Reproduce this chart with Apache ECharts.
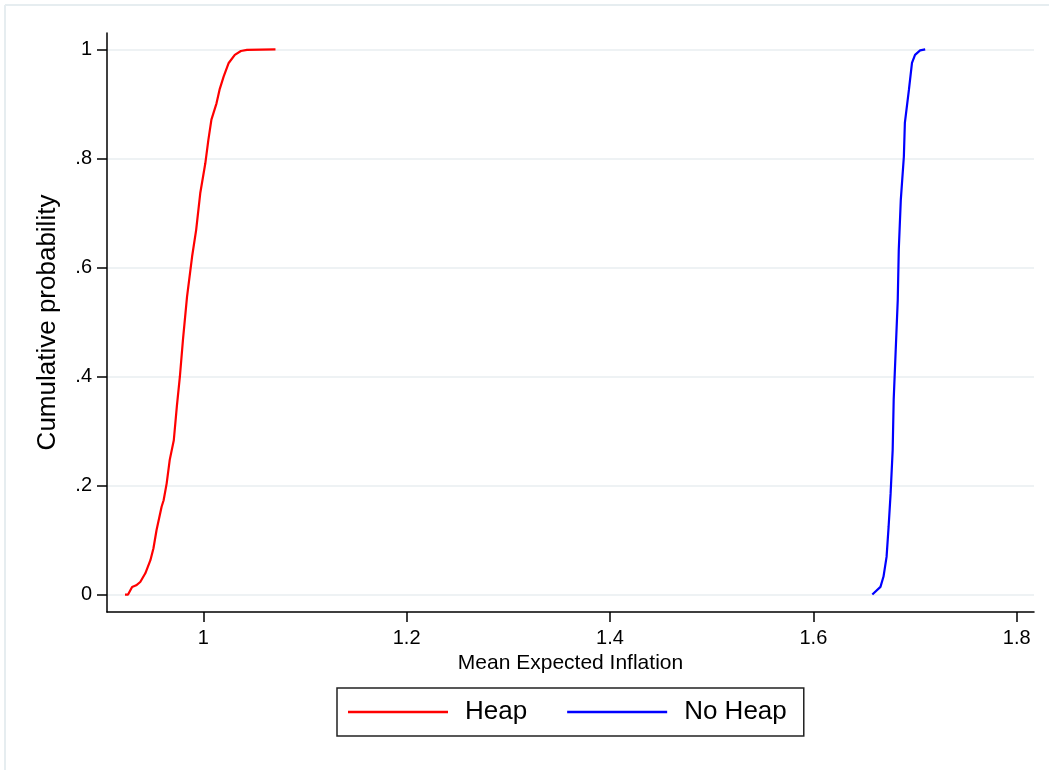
<!DOCTYPE html>
<html>
<head>
<meta charset="utf-8">
<script src="https://cdn.jsdelivr.net/npm/echarts@6/dist/echarts.min.js"></script>
<style>
  html, body { margin: 0; padding: 0; background: #ffffff; }
  #chart { width: 1049px; height: 770px; }
</style>
</head>
<body>
<div id="chart"></div>
<script>
// ---- data ----
const heapX = [0.923, 0.926, 0.930, 0.934, 0.938, 0.943, 0.948, 0.951, 0.954, 0.959, 0.961, 0.964, 0.967, 0.971, 0.974, 0.977, 0.980, 0.984, 0.989, 0.993, 0.997, 1.002, 1.005, 1.008, 1.013, 1.016, 1.020, 1.025, 1.031, 1.037, 1.043, 1.071];
const heapY = [0.000, 0.000, 0.014, 0.017, 0.023, 0.039, 0.063, 0.085, 0.118, 0.161, 0.173, 0.204, 0.247, 0.283, 0.345, 0.400, 0.467, 0.546, 0.620, 0.669, 0.736, 0.791, 0.834, 0.871, 0.901, 0.926, 0.950, 0.975, 0.990, 0.997, 0.999, 1.000];

const noHeapX = [1.658, 1.666, 1.669, 1.672, 1.674, 1.676, 1.678, 1.679, 1.681, 1.683, 1.684, 1.686, 1.689, 1.690, 1.694, 1.697, 1.700, 1.705, 1.710];
const noHeapY = [0.000, 0.014, 0.033, 0.069, 0.124, 0.186, 0.265, 0.357, 0.449, 0.540, 0.632, 0.724, 0.803, 0.865, 0.926, 0.975, 0.990, 0.998, 1.000];

const xTicks = [1, 1.2, 1.4, 1.6, 1.8];
const yTicks = [0, 0.2, 0.4, 0.6, 0.8, 1];

const seriesNames = ['Heap', 'No Heap'];
const xTitle = 'Mean Expected Inflation';
const yTitle = 'Cumulative probability';

// ---- build ----
const zip = (xs, ys) => xs.map((x, i) => [x, ys[i]]);
const FONT = '"Liberation Sans", Arial, Helvetica, sans-serif';

const chart = echarts.init(document.getElementById('chart'), null, { renderer: 'canvas' });

const option = {
  backgroundColor: '#ffffff',
  animation: false,
  textStyle: { fontFamily: FONT },
  graphic: [
    { type: 'line', shape: { x1: 5, y1: 5, x2: 1049, y2: 5 }, style: { stroke: '#e6edf0', lineWidth: 2 } },
    { type: 'line', shape: { x1: 5, y1: 5, x2: 5, y2: 770 }, style: { stroke: '#e6edf0', lineWidth: 2 } }
  ],
  grid: { left: 107, top: 33, right: 15, bottom: 158, containLabel: false },
  xAxis: {
    type: 'value',
    min: 0.9053,
    max: 1.817,
    name: xTitle,
    nameLocation: 'middle',
    nameGap: 37,
    nameTextStyle: { fontSize: 21, color: '#000', fontFamily: FONT },
    axisLine: { show: true, onZero: false, lineStyle: { color: '#000', width: 1.5 } },
    axisTick: { show: true, length: 10, lineStyle: { color: '#000', width: 1.5 }, customValues: xTicks },
    axisLabel: { show: true, fontSize: 20, color: '#000', margin: 16, fontFamily: FONT, customValues: xTicks,
      formatter: v => String(v) },
    splitLine: { show: false }
  },
  yAxis: {
    type: 'value',
    min: -0.032,
    max: 1.030,
    name: yTitle,
    nameLocation: 'middle',
    nameGap: 46,
    nameRotate: 90,
    nameTextStyle: { fontSize: 26, color: '#000', fontFamily: FONT },
    axisLine: { show: true, onZero: false, lineStyle: { color: '#000', width: 1.5 } },
    axisTick: { show: true, length: 10, lineStyle: { color: '#000', width: 1.5 }, customValues: yTicks },
    axisLabel: { show: true, fontSize: 20, color: '#000', margin: 15, fontFamily: FONT, customValues: yTicks,
      formatter: v => (v === 0 ? '0' : v === 1 ? '1' : String(Math.round(v * 10) / 10).replace(/^0/, '')) },
    splitLine: { show: true, lineStyle: { color: '#e8eef1', width: 1.5 } }
  },
  legend: {
    show: true,
    left: 337,
    top: 688,
    orient: 'horizontal',
    data: seriesNames,
    icon: 'rect',
    itemWidth: 100,
    itemHeight: 2.5,
    itemGap: 40,
    padding: [11, 17, 11, 11],
    borderColor: '#222',
    borderWidth: 1.5,
    borderRadius: 0,
    textStyle: { fontSize: 26, color: '#000', fontFamily: FONT, padding: [0, 0, 0, 12] }
  },
  series: [
    {
      name: seriesNames[0],
      type: 'line',
      data: zip(heapX, heapY),
      symbol: 'none',
      smooth: false,
      lineStyle: { color: '#ff0000', width: 2.2 },
      itemStyle: { color: '#ff0000' }
    },
    {
      name: seriesNames[1],
      type: 'line',
      data: zip(noHeapX, noHeapY),
      symbol: 'none',
      smooth: false,
      lineStyle: { color: '#0000ff', width: 2.2 },
      itemStyle: { color: '#0000ff' }
    }
  ]
};

chart.setOption(option);
</script>
</body>
</html>
